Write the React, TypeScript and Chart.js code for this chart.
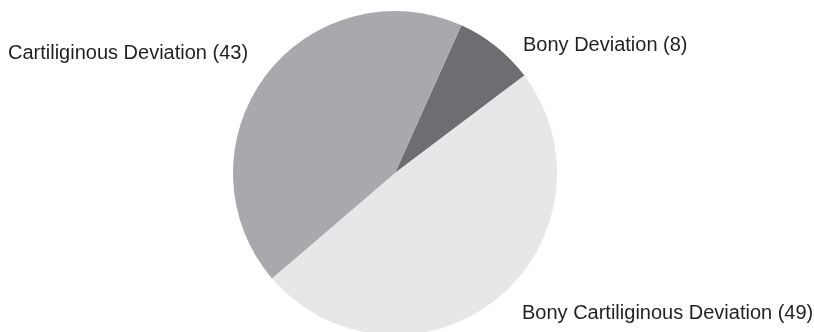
import React, { useEffect, useRef } from "react";
import { Chart, registerables } from "chart.js";

Chart.register(...registerables);

const categories = [
  "Bony Deviation",
  "Bony Cartiliginous Deviation",
  "Cartiliginous Deviation",
];
const values = [8, 49, 43];
const colors = ["#6d6e71", "#e6e7e8", "#a7a9ac"];
// label anchor (left x, baseline y) for each category
const labelAnchors = [
  { x: 523, y: 51 },
  { x: 522, y: 319 },
  { x: 8, y: 59 },
];

const labelPlugin = {
  id: "outerLabels",
  afterDraw(chart: any) {
    const ctx = chart.ctx;
    ctx.save();
    ctx.font = '20px "Liberation Sans", Arial, sans-serif';
    ctx.fillStyle = "#231f20";
    ctx.textAlign = "left";
    ctx.textBaseline = "alphabetic";
    categories.forEach((c, i) => {
      const a = labelAnchors[i];
      ctx.fillText(`${c} (${values[i]})`, a.x, a.y);
    });
    ctx.restore();
  },
};

export default function App() {
  const ref = useRef<HTMLCanvasElement>(null);
  useEffect(() => {
    if (!ref.current) return;
    const chart = new Chart(ref.current, {
      type: "pie",
      data: {
        labels: categories,
        datasets: [
          {
            data: values,
            backgroundColor: colors,
            borderWidth: 0,
            hoverOffset: 0,
            offset: 0,
          },
        ],
      },
      options: {
        animation: false,
        responsive: false,
        devicePixelRatio: 1,
        rotation: 24.2,
        radius: 162,
        layout: { padding: { top: 11, bottom: 11, left: 0, right: 24 } },
        plugins: {
          legend: { display: false },
          tooltip: { enabled: false },
        },
      } as any,
      plugins: [labelPlugin],
    });
    return () => chart.destroy();
  }, []);
  return (
    <div
      style={{
        position: "absolute",
        left: 0,
        top: 0,
        width: 814,
        height: 332,
        overflow: "hidden",
        background: "#ffffff",
      }}
    >
      <canvas ref={ref} width={814} height={346} style={{ width: 814, height: 346, display: "block" }} />
    </div>
  );
}
